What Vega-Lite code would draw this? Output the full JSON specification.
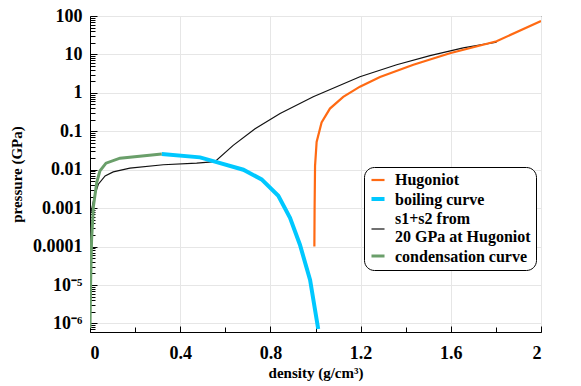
{
  "$schema": "https://vega.github.io/schema/vega-lite/v6.json",
  "width": 451,
  "height": 316,
  "autosize": {"type": "none"},
  "padding": {"left": 90, "top": 16, "right": 40, "bottom": 54},
  "background": "white",
  "data": {
    "values": [
      {"series": "s1+s2 from 20 GPa at Hugoniot", "density": 0.005, "pressure": 0.0008},
      {"series": "s1+s2 from 20 GPa at Hugoniot", "density": 0.012, "pressure": 0.00126},
      {"series": "s1+s2 from 20 GPa at Hugoniot", "density": 0.022, "pressure": 0.0023},
      {"series": "s1+s2 from 20 GPa at Hugoniot", "density": 0.037, "pressure": 0.0042},
      {"series": "s1+s2 from 20 GPa at Hugoniot", "density": 0.067, "pressure": 0.0069},
      {"series": "s1+s2 from 20 GPa at Hugoniot", "density": 0.103, "pressure": 0.0088},
      {"series": "s1+s2 from 20 GPa at Hugoniot", "density": 0.177, "pressure": 0.011},
      {"series": "s1+s2 from 20 GPa at Hugoniot", "density": 0.325, "pressure": 0.0135},
      {"series": "s1+s2 from 20 GPa at Hugoniot", "density": 0.473, "pressure": 0.0148},
      {"series": "s1+s2 from 20 GPa at Hugoniot", "density": 0.554, "pressure": 0.0162},
      {"series": "s1+s2 from 20 GPa at Hugoniot", "density": 0.635, "pressure": 0.043},
      {"series": "s1+s2 from 20 GPa at Hugoniot", "density": 0.732, "pressure": 0.117},
      {"series": "s1+s2 from 20 GPa at Hugoniot", "density": 0.843, "pressure": 0.29},
      {"series": "s1+s2 from 20 GPa at Hugoniot", "density": 0.99, "pressure": 0.79},
      {"series": "s1+s2 from 20 GPa at Hugoniot", "density": 1.197, "pressure": 2.63},
      {"series": "s1+s2 from 20 GPa at Hugoniot", "density": 1.36, "pressure": 5.4},
      {"series": "s1+s2 from 20 GPa at Hugoniot", "density": 1.508, "pressure": 9.3},
      {"series": "s1+s2 from 20 GPa at Hugoniot", "density": 1.655, "pressure": 14.8},
      {"series": "s1+s2 from 20 GPa at Hugoniot", "density": 1.803, "pressure": 21},
      {"series": "Hugoniot", "density": 0.995, "pressure": 0.0001},
      {"series": "Hugoniot", "density": 0.996, "pressure": 0.001},
      {"series": "Hugoniot", "density": 0.998, "pressure": 0.0126},
      {"series": "Hugoniot", "density": 1.005, "pressure": 0.053},
      {"series": "Hugoniot", "density": 1.027, "pressure": 0.17},
      {"series": "Hugoniot", "density": 1.064, "pressure": 0.39},
      {"series": "Hugoniot", "density": 1.123, "pressure": 0.79},
      {"series": "Hugoniot", "density": 1.197, "pressure": 1.45},
      {"series": "Hugoniot", "density": 1.286, "pressure": 2.6},
      {"series": "Hugoniot", "density": 1.434, "pressure": 5.4},
      {"series": "Hugoniot", "density": 1.596, "pressure": 10.7},
      {"series": "Hugoniot", "density": 1.803, "pressure": 22},
      {"series": "Hugoniot", "density": 2.0, "pressure": 74},
      {"series": "boiling curve", "density": 0.318, "pressure": 0.0257},
      {"series": "boiling curve", "density": 0.488, "pressure": 0.021},
      {"series": "boiling curve", "density": 0.554, "pressure": 0.0162},
      {"series": "boiling curve", "density": 0.68, "pressure": 0.01},
      {"series": "boiling curve", "density": 0.761, "pressure": 0.0056},
      {"series": "boiling curve", "density": 0.835, "pressure": 0.0021},
      {"series": "boiling curve", "density": 0.887, "pressure": 0.00056},
      {"series": "boiling curve", "density": 0.931, "pressure": 0.000112},
      {"series": "boiling curve", "density": 0.976, "pressure": 0.0000135},
      {"series": "boiling curve", "density": 1.012, "pressure": 0.00000072},
      {"series": "condensation curve", "density": 0.0, "pressure": 0.00000075},
      {"series": "condensation curve", "density": 0.003, "pressure": 0.0000135},
      {"series": "condensation curve", "density": 0.007, "pressure": 0.00015},
      {"series": "condensation curve", "density": 0.015, "pressure": 0.0011},
      {"series": "condensation curve", "density": 0.03, "pressure": 0.0047},
      {"series": "condensation curve", "density": 0.044, "pressure": 0.0093},
      {"series": "condensation curve", "density": 0.071, "pressure": 0.0148},
      {"series": "condensation curve", "density": 0.133, "pressure": 0.02},
      {"series": "condensation curve", "density": 0.318, "pressure": 0.0257}
    ]
  },
  "resolve": {"axis": {"x": "independent", "y": "independent"}},
  "layer": [
    {
      "mark": {"type": "line", "strokeOpacity": 0, "clip": true},
      "encoding": {
        "x": {
          "field": "density", "type": "quantitative",
          "scale": {"domain": [0, 2], "nice": false, "zero": false},
          "axis": {"orient": "bottom", "values": [0.2, 0.6, 1.0, 1.4, 1.8], "labels": false, "grid": false, "domain": false, "tickSize": -5, "tickColor": "black", "title": null}
        },
        "y": {
          "field": "pressure", "type": "quantitative",
          "scale": {"type": "log", "domain": [6e-7, 100], "nice": false},
          "axis": {"orient": "left", "values": [7e-7, 8e-7, 9e-7, 2e-6, 3e-6, 4e-6, 5e-6, 6e-6, 7e-6, 8e-6, 9e-6, 2e-5, 3e-5, 4e-5, 5e-5, 6e-5, 7e-5, 8e-5, 9e-5, 0.0002, 0.0003, 0.0004, 0.0005, 0.0006, 0.0007, 0.0008, 0.0009, 0.002, 0.003, 0.004, 0.005, 0.006, 0.007, 0.008, 0.009, 0.02, 0.03, 0.04, 0.05, 0.06, 0.07, 0.08, 0.09, 0.2, 0.3, 0.4, 0.5, 0.6, 0.7, 0.8, 0.9, 2, 3, 4, 5, 6, 7, 8, 9, 20, 30, 40, 50, 60, 70, 80, 90], "labels": false, "grid": false, "domain": false, "tickSize": -5, "tickColor": "black", "title": null}
        }
      }
    },
    {
      "mark": {"type": "line", "clip": true},
      "encoding": {
        "x": {
          "field": "density", "type": "quantitative",
          "scale": {"domain": [0, 2], "nice": false, "zero": false},
          "axis": {"orient": "bottom", "values": [0, 0.4, 0.8, 1.2, 1.6, 2], "labelExpr": "format(datum.value, '.1~f')", "grid": true, "gridColor": "#e6e6e6", "domain": true, "domainColor": "black", "tickSize": -6, "tickColor": "black", "labelFont": "Liberation Serif", "labelFontWeight": "bold", "labelFontSize": 18, "labelColor": "black", "labelPadding": 18, "title": "density (g/cm³)", "titleFont": "Liberation Serif", "titleFontWeight": "bold", "titleFontSize": 15, "titleColor": "black", "titlePadding": 3}
        },
        "y": {
          "field": "pressure", "type": "quantitative",
          "scale": {"type": "log", "domain": [6e-7, 100], "nice": false},
          "axis": {"orient": "left", "values": [1e-6, 1e-5, 0.0001, 0.001, 0.01, 0.1, 1, 10, 100], "labelExpr": "['10⁻⁶','10⁻⁵','0.0001','0.001','0.01','0.1','1','10','100'][round(log(datum.value)/LN10)+6]", "grid": true, "gridColor": "#e6e6e6", "domain": true, "domainColor": "black", "tickSize": -7, "tickColor": "black", "labelFont": "Liberation Serif", "labelFontWeight": "bold", "labelFontSize": 18, "labelColor": "black", "labelPadding": 15, "title": "pressure (GPa)", "titleFont": "Liberation Serif", "titleFontWeight": "bold", "titleFontSize": 15, "titleColor": "black", "titlePadding": 8}
        },
        "color": {
          "field": "series", "type": "nominal",
          "scale": {"domain": ["Hugoniot", "boiling curve", "s1+s2 from 20 GPa at Hugoniot", "condensation curve"], "range": ["#ff6a13", "#00c8ff", "#111111", "#6a9f6a"]},
          "legend": {
            "title": null,
            "labelExpr": "datum.label == 's1+s2 from 20 GPa at Hugoniot' ? ['s1+s2 from', '20 GPa at Hugoniot'] : datum.label",
            "encode": {"symbols": {"update": {"y": {"signal": "datum.value == 's1+s2 from 20 GPa at Hugoniot' ? 18 : 8"}}}}
          }
        },
        "strokeWidth": {
          "field": "series", "type": "nominal",
          "scale": {"type": "ordinal", "domain": ["Hugoniot", "boiling curve", "s1+s2 from 20 GPa at Hugoniot", "condensation curve"], "range": [2.2, 4, 1.2, 3]},
          "legend": {
            "title": null,
            "labelExpr": "datum.label == 's1+s2 from 20 GPa at Hugoniot' ? ['s1+s2 from', '20 GPa at Hugoniot'] : datum.label",
            "encode": {"symbols": {"update": {"y": {"signal": "datum.value == 's1+s2 from 20 GPa at Hugoniot' ? 18 : 8"}}}}
          }
        },
        "order": {"field": "density"}
      }
    }
  ],
  "config": {
    "font": "Liberation Serif",
    "view": {"stroke": "black", "strokeWidth": 1},
    "legend": {
      "orient": "none",
      "legendX": 274,
      "legendY": 151,
      "fillColor": "white",
      "strokeColor": "black",
      "cornerRadius": 10,
      "padding": 5,
      "symbolType": "stroke",
      "symbolSize": 170,
      "labelFont": "Liberation Serif",
      "labelFontWeight": "bold",
      "labelFontSize": 16,
      "labelColor": "black",
      "labelLimit": 300,
      "labelOffset": 8,
      "rowPadding": 3
    }
  }
}
